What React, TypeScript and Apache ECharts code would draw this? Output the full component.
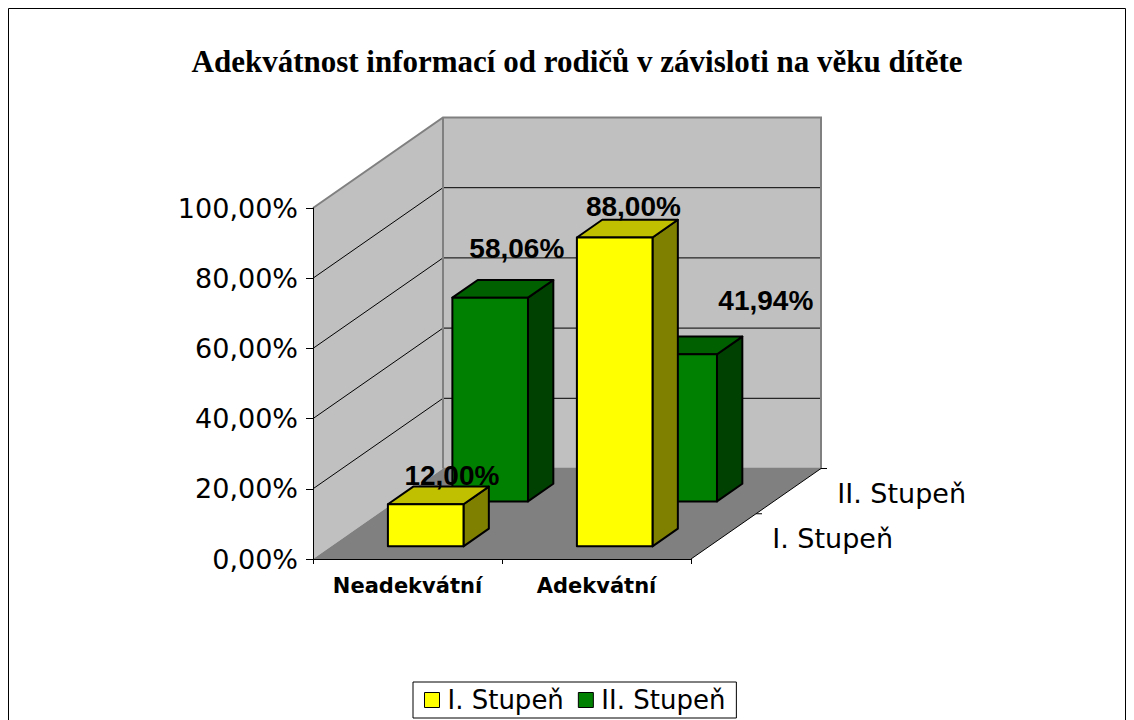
import React, { useEffect, useRef } from "react";
import * as echarts from "echarts";

// ---------- data ----------
const TITLE = "Adekvátnost informací od rodičů v závisloti na věku dítěte";
const CATEGORIES = ["Neadekvátní", "Adekvátní"];
const SERIES_NAMES = ["I. Stupeň", "II. Stupeň"];
const STUPEN_I = [0.12, 0.88];
const STUPEN_II = [0.5806, 0.4194];
const Y_TICKS = [0, 0.2, 0.4, 0.6, 0.8, 1];

// ---------- layout / style ----------
const DEPTH = { dx: 130, dy: -90.5 };
const ROW_FRONT = [0.14, 0.636];
const ROW_CENTER = [0.24, 0.74];
const BAR_DEPTH = 0.195;
const BAR_WIDTH = 0.4;
const LABEL_SHIFT = [
  [[13.5, -19.6], [6, -22]],
  [[14, -40], [74, -45]],
];
const COLORS = [
  { front: "#ffff00", top: "#c0c000", side: "#808000" },
  { front: "#008000", top: "#006000", side: "#004000" },
];
const SANS = '"DejaVu Sans", sans-serif';
const ARIAL = '"Liberation Sans", Arial, sans-serif';
const SERIF = '"Liberation Serif", "Times New Roman", serif';

const pct = (v: number) => (v * 100).toFixed(2).replace(".", ",") + "%";

const P = (x: number, y: number, d: number) => [x + d * DEPTH.dx, y + d * DEPTH.dy];

function wallsRender(params: any, api: any) {
  const cs = params.coordSys;
  const L = cs.x;
  const R = cs.x + cs.width;
  const yOf = (v: number) => api.coord([0, v])[1];
  const y0 = yOf(0);
  const y1 = yOf(1);
  const children: any[] = [];
  children.push({
    type: "polygon",
    shape: { points: [P(L, y1, 1), P(R, y1, 1), P(R, y0, 1), P(L, y0, 1)] },
    style: { fill: "#c0c0c0", stroke: "none" },
  });
  children.push({
    type: "polygon",
    shape: { points: [P(L, y1, 0), P(L, y1, 1), P(L, y0, 1), P(L, y0, 0)] },
    style: { fill: "#c0c0c0", stroke: "none" },
  });
  children.push({
    type: "polygon",
    shape: { points: [P(L, y0, 0), P(R, y0, 0), P(R, y0, 1), P(L, y0, 1)] },
    style: { fill: "#808080", stroke: "none" },
  });
  Y_TICKS.forEach((v) => {
    if (v <= 0 || v >= 1) return;
    const yv = yOf(v);
    const a = P(L, yv, 0), b = P(L, yv, 1), c = P(R, yv, 1);
    children.push({ type: "polyline", shape: { points: [a, b, c] }, style: { stroke: "#000", lineWidth: 1, fill: "none" } });
  });
  // gray wall edges
  children.push({
    type: "polyline",
    shape: { points: [P(L, y1, 0), P(L, y1, 1), P(R, y1, 1), P(R, y0, 1)] },
    style: { stroke: "#808080", lineWidth: 2, fill: "none" },
  });
  children.push({
    type: "polyline",
    shape: { points: [P(L, y0, 1), P(L, y1, 1)] },
    style: { stroke: "#808080", lineWidth: 2, fill: "none" },
  });
  children.push({
    type: "polyline",
    shape: { points: [P(L, y0, 1), P(R, y0, 1)] },
    style: { stroke: "#808080", lineWidth: 1.5, fill: "none" },
  });
  // depth axis
  const da = P(R, y0, 0), db = P(R, y0, 1);
  children.push({ type: "line", shape: { x1: da[0], y1: da[1], x2: db[0], y2: db[1] }, style: { stroke: "#000", lineWidth: 1 } });
  [0.5, 1].forEach((d) => {
    const p = P(R, y0, d);
    children.push({ type: "line", shape: { x1: p[0], y1: p[1], x2: p[0] + 6, y2: p[1] }, style: { stroke: "#000", lineWidth: 1 } });
  });
  SERIES_NAMES.forEach((name, i) => {
    const p = P(R, y0, ROW_CENTER[i]);
    children.push({
      type: "text",
      x: p[0] + 50,
      y: p[1] + 1,
      style: {
        text: name,
        fill: "#000",
        font: `27px ${SANS}`,
        textAlign: "left",
        textVerticalAlign: "middle",
        align: "left",
        verticalAlign: "middle",
      },
    });
  });
  return { type: "group", children };
}

function barRender(s: number) {
  return function (params: any, api: any) {
    const cat = api.value(0);
    const v = api.value(1);
    const cs = params.coordSys;
    const bandW = cs.width / CATEGORIES.length;
    const p0 = api.coord([cat, 0]);
    const cx = p0[0];
    const y0 = p0[1];
    const yv = api.coord([cat, v])[1];
    const f = ROW_FRONT[s];
    const b = f + BAR_DEPTH;
    const w = bandW * BAR_WIDTH;
    const xl = cx - w / 2;
    const xr = cx + w / 2;
    const c = COLORS[s];
    const edge = { stroke: "#000", lineWidth: 2, lineJoin: "round" };
    const tc = P(cx, yv, (f + b) / 2);
    const sh = LABEL_SHIFT[s][params.dataIndex];
    return {
      type: "group",
      children: [
        {
          type: "polygon",
          shape: { points: [P(xr, yv, f), P(xr, yv, b), P(xr, y0, b), P(xr, y0, f)] },
          style: { fill: c.side, ...edge },
        },
        {
          type: "polygon",
          shape: { points: [P(xl, yv, f), P(xr, yv, f), P(xr, yv, b), P(xl, yv, b)] },
          style: { fill: c.top, ...edge },
        },
        {
          type: "polygon",
          shape: { points: [P(xl, yv, f), P(xr, yv, f), P(xr, y0, f), P(xl, y0, f)] },
          style: { fill: c.front, ...edge },
        },
        {
          type: "text",
          x: tc[0] + sh[0],
          y: tc[1] + sh[1],
          z2: 100,
          style: {
            text: pct(v),
            fill: "#000",
            font: `bold 28px ${ARIAL}`,
            textAlign: "center",
            textVerticalAlign: "middle",
            align: "center",
            verticalAlign: "middle",
          },
        },
      ],
    };
  };
}

export default function App() {
  const ref = useRef<HTMLDivElement>(null);
  useEffect(() => {
    if (!ref.current) return;
    const chart = echarts.init(ref.current, undefined, { renderer: "svg" });
    const option: any = {
      animation: false,
      backgroundColor: "#ffffff",
      graphic: [
        {
          type: "rect",
          shape: { x: 8.5, y: 8.5, width: 1117, height: 740 },
          style: { fill: "none", stroke: "#000", lineWidth: 1 },
          silent: true,
        },
        {
          type: "text",
          x: 577,
          y: 61,
          style: {
            text: TITLE,
            fill: "#000",
            font: `bold 31px ${SERIF}`,
            textAlign: "center",
            textVerticalAlign: "middle",
            align: "center",
            verticalAlign: "middle",
          },
        },
      ],
      legend: {
        data: SERIES_NAMES,
        left: 413,
        top: 682,
        orient: "horizontal",
        padding: [5, 11, 5, 11],
        itemGap: 14,
        itemWidth: 15,
        itemHeight: 15,
        icon: "rect",
        borderColor: "#000",
        borderWidth: 1,
        borderRadius: 0,
        backgroundColor: "#fff",
        selectedMode: false,
        itemStyle: { borderColor: "#000", borderWidth: 1 },
        textStyle: { fontFamily: SANS, fontSize: 26, color: "#000", padding: [0, 0, 0, 3] },
      },
      grid: { left: 313, top: 208, width: 378, height: 351, containLabel: false },
      xAxis: {
        type: "category",
        data: CATEGORIES,
        z: 10,
        axisLine: { show: true, lineStyle: { color: "#000", width: 1 } },
        axisTick: { show: true, length: 5, lineStyle: { color: "#000" } },
        axisLabel: { interval: 0, fontFamily: SANS, fontWeight: "bold", fontSize: 21, color: "#000", margin: 16 },
        splitLine: { show: false },
      },
      yAxis: {
        type: "value",
        min: 0,
        max: 1,
        interval: 0.2,
        z: 10,
        axisLine: { show: true, lineStyle: { color: "#000", width: 1 } },
        axisTick: { show: true, length: 7, lineStyle: { color: "#000" } },
        axisLabel: { fontFamily: SANS, fontSize: 27, color: "#000", margin: 15, formatter: (v: number) => pct(v) },
        splitLine: { show: false },
      },
      series: [
        {
          type: "custom",
          name: "walls",
          silent: true,
          clip: false,
          z: 1,
          renderItem: wallsRender,
          data: [[0, 0]],
        },
        {
          type: "custom",
          name: SERIES_NAMES[1],
          silent: true,
          clip: false,
          z: 2,
          itemStyle: { color: COLORS[1].front },
          renderItem: barRender(1),
          encode: { x: 0, y: 1 },
          data: STUPEN_II.map((v, i) => [i, v]),
        },
        {
          type: "custom",
          name: SERIES_NAMES[0],
          silent: true,
          clip: false,
          z: 3,
          itemStyle: { color: COLORS[0].front },
          renderItem: barRender(0),
          encode: { x: 0, y: 1 },
          data: STUPEN_I.map((v, i) => [i, v]),
        },
      ],
    };
    chart.setOption(option);
    return () => chart.dispose();
  }, []);
  return (
    <div
      ref={ref}
      style={{ position: "fixed", left: 0, top: 0, width: 1134, height: 720, background: "#fff" }}
    />
  );
}
